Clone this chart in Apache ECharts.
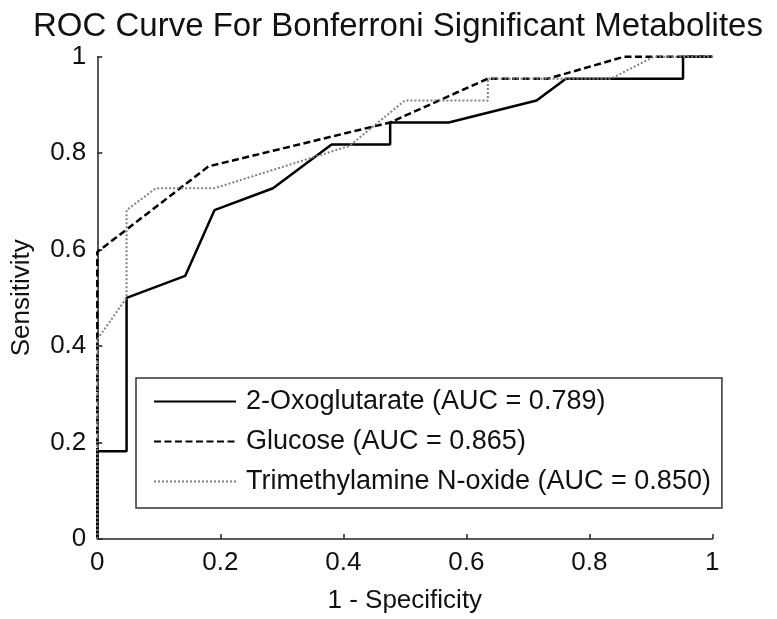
<!DOCTYPE html>
<html>
<head>
<meta charset="utf-8">
<script src="https://cdn.jsdelivr.net/npm/echarts@6/dist/echarts.min.js"></script>
<style>
html,body{margin:0;padding:0;background:#fff;}
#chart{width:777px;height:619px;}
</style>
</head>
<body>
<div id="chart"></div>
<script>
const titleText = "ROC Curve For Bonferroni Significant Metabolites";
const xAxisName = "1 - Specificity";
const yAxisName = "Sensitivity";
const seriesNames = ["2-Oxoglutarate (AUC = 0.789)", "Glucose (AUC = 0.865)", "Trimethylamine N-oxide (AUC = 0.850)"];

const oxoX = [0, 0, 0.0476, 0.0476, 0.1429, 0.1905, 0.2857, 0.381, 0.4762, 0.4762, 0.5714, 0.7143, 0.7619, 0.9524, 0.9524, 1];
const oxoY = [0, 0.1818, 0.1818, 0.5, 0.5455, 0.6818, 0.7273, 0.8182, 0.8182, 0.8636, 0.8636, 0.9091, 0.9545, 0.9545, 1, 1];

const gluX = [0, 0, 0.181, 0.476, 0.635, 0.733, 0.857, 1];
const gluY = [0, 0.595, 0.7727, 0.8636, 0.9545, 0.9545, 1, 1];

const tmaoX = [0, 0, 0.0476, 0.0476, 0.0952, 0.1905, 0.41, 0.5, 0.635, 0.635, 0.835, 0.905, 1];
const tmaoY = [0, 0.414, 0.5, 0.6818, 0.7273, 0.7273, 0.815, 0.9091, 0.9091, 0.9545, 0.9545, 1, 1];

function pairs(xs, ys) { return xs.map((x, i) => [x, ys[i]]); }

const FONT = "'Liberation Sans', Arial, Helvetica, sans-serif";
const chart = echarts.init(document.getElementById('chart'), null, {renderer: 'canvas'});

const axisCommon = {
  type: 'value', min: 0, max: 1, interval: 0.2,
  splitLine: {show: false},
  axisLine: {show: true, lineStyle: {color: '#222', width: 1.5}},
  axisTick: {show: true, inside: true, length: 5, lineStyle: {color: '#222', width: 1.5}},
  axisLabel: {color: '#111', fontFamily: FONT, fontSize: 26},
  nameLocation: 'middle',
  nameTextStyle: {color: '#111', fontFamily: FONT, fontSize: 26}
};

chart.setOption({
  animation: false,
  backgroundColor: '#fff',
  title: {
    text: titleText, left: 28, top: 5,
    textStyle: {color: '#111', fontFamily: FONT, fontSize: 33, fontWeight: 'normal'}
  },
  grid: {left: 97.3, right: 64.7, top: 56.7, bottom: 77.3, containLabel: false},
  xAxis: Object.assign({}, axisCommon, {
    name: xAxisName, nameGap: 49,
    axisLabel: Object.assign({}, axisCommon.axisLabel, {margin: 11})
  }),
  yAxis: Object.assign({}, axisCommon, {
    name: yAxisName, nameGap: 62,
    axisLabel: Object.assign({}, axisCommon.axisLabel, {margin: 11})
  }),
  legend: {
    orient: 'vertical', left: 136, top: 378,
    padding: [10, 11, 13, 17],
    borderColor: '#333', borderWidth: 1.5, backgroundColor: '#fff',
    itemWidth: 82, itemHeight: 14, itemGap: 13,
    itemStyle: {opacity: 0},
    textStyle: {color: '#111', fontFamily: FONT, fontSize: 27, padding: [0, 0, 0, 5]},
    data: seriesNames
  },
  series: [
    {name: seriesNames[0], type: 'line', data: pairs(oxoX, oxoY), symbol: 'none', clip: false,
     lineStyle: {color: '#000', width: 2.5, type: 'solid'}, itemStyle: {color: '#000'}},
    {name: seriesNames[1], type: 'line', data: pairs(gluX, gluY), symbol: 'none', clip: false,
     lineStyle: {color: '#000', width: 2.5, type: [7, 3.5]}, itemStyle: {color: '#000'}},
    {name: seriesNames[2], type: 'line', data: pairs(tmaoX, tmaoY), symbol: 'none', clip: false,
     lineStyle: {color: '#808080', width: 2, type: [2, 2]}, itemStyle: {color: '#808080'}}
  ]
});
</script>
</body>
</html>
